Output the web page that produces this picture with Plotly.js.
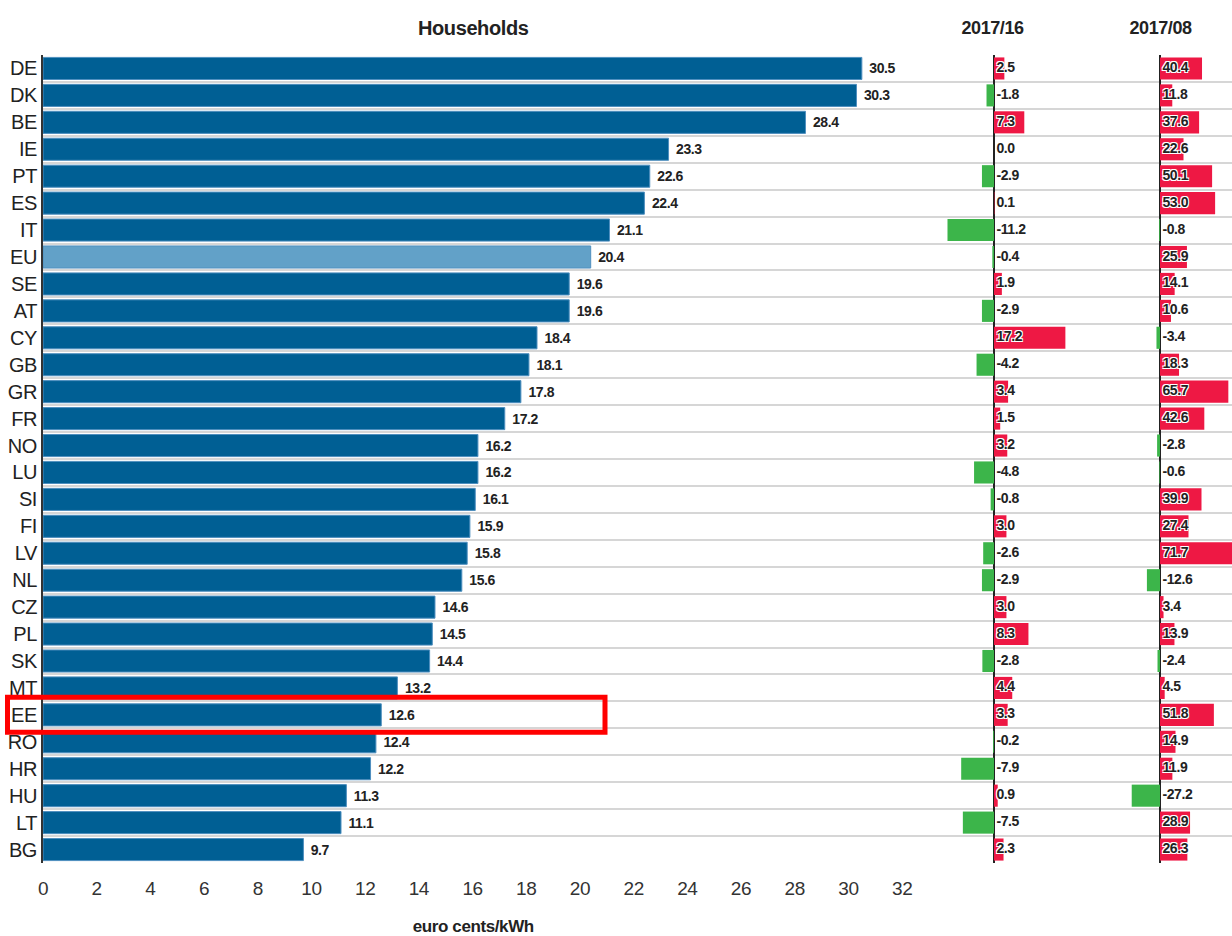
<!DOCTYPE html>
<html>
<head>
<meta charset="utf-8">
<script src="https://cdn.plot.ly/plotly-3.0.1.min.js"></script>
<style>html,body{margin:0;padding:0;background:#fff;}#chart{width:1232px;height:936px;}#chart text{letter-spacing:-0.4px;}</style>
</head>
<body>
<div id="chart"></div>
<script>
const countries = ["DE","DK","BE","IE","PT","ES","IT","EU","SE","AT","CY","GB","GR","FR","NO","LU","SI","FI","LV","NL","CZ","PL","SK","MT","EE","RO","HR","HU","LT","BG"];
const prices2017 = [30.5,30.3,28.4,23.3,22.6,22.4,21.1,20.4,19.6,19.6,18.4,18.1,17.8,17.2,16.2,16.2,16.1,15.9,15.8,15.6,14.6,14.5,14.4,13.2,12.6,12.4,12.2,11.3,11.1,9.7];
const change1716 = [2.5,-1.8,7.3,0.0,-2.9,0.1,-11.2,-0.4,1.9,-2.9,17.2,-4.2,3.4,1.5,3.2,-4.8,-0.8,3.0,-2.6,-2.9,3.0,8.3,-2.8,4.4,3.3,-0.2,-7.9,0.9,-7.5,2.3];
const change1708 = [40.4,11.8,37.6,22.6,50.1,53.0,-0.8,25.9,14.1,10.6,-3.4,18.3,65.7,42.6,-2.8,-0.6,39.9,27.4,71.7,-12.6,3.4,13.9,-2.4,4.5,51.8,14.9,11.9,-27.2,28.9,26.3];
const xTicks = [0,2,4,6,8,10,12,14,16,18,20,22,24,26,28,30,32];
const highlight = "EE";

const FONT = "Liberation Sans, Arial, sans-serif";
const BLUE = "#005f94", LIGHTBLUE = "#62a1c8", RED = "#ee1844", GREEN = "#3cb54a";
const halo = "1px 1px 0 #fff, -1px -1px 0 #fff, 1px -1px 0 #fff, -1px 1px 0 #fff";
const fmt = v => v.toFixed(1);
const posNegColor = v => v > 0 ? RED : GREEN;

const traces = [
  {
    type: "bar", orientation: "h", x: prices2017, y: countries, xaxis: "x", yaxis: "y",
    marker: {color: countries.map(c => c === "EU" ? LIGHTBLUE : BLUE), line: {color: "#4f8fbf", width: 1}},
    text: prices2017.map(v => "\u00a0" + fmt(v)), textposition: "outside", cliponaxis: false,
    textfont: {family: FONT, size: 14, color: "#222", weight: "bold"},
    hoverinfo: "x+y"
  },
  {
    type: "bar", orientation: "h", x: change1716, y: countries, xaxis: "x2", yaxis: "y",
    marker: {color: change1716.map(posNegColor)}, hoverinfo: "x+y"
  },
  {
    type: "scatter", mode: "text", x: change1716.map(() => 0), y: countries, xaxis: "x2", yaxis: "y",
    text: change1716.map(v => "\u2009" + fmt(v)), textposition: "middle right", cliponaxis: false,
    textfont: {family: FONT, size: 14, color: "#222", weight: "bold", shadow: halo}, hoverinfo: "skip"
  },
  {
    type: "bar", orientation: "h", x: change1708, y: countries, xaxis: "x3", yaxis: "y",
    marker: {color: change1708.map(posNegColor)}, hoverinfo: "x+y"
  },
  {
    type: "scatter", mode: "text", x: change1708.map(() => 0), y: countries, xaxis: "x3", yaxis: "y",
    text: change1708.map(v => "\u2009" + fmt(v)), textposition: "middle right", cliponaxis: false,
    textfont: {family: FONT, size: 14, color: "#222", weight: "bold", shadow: halo}, hoverinfo: "skip"
  }
];

const hiIdx = countries.indexOf(highlight);

const layout = {
  width: 1232, height: 936,
  margin: {l: 43, r: 0, t: 55, b: 73},
  paper_bgcolor: "#fff", plot_bgcolor: "rgba(0,0,0,0)",
  showlegend: false, bargap: 0.18,
  font: {family: FONT, color: "#222"},
  yaxis: {
    type: "category", categoryorder: "array", categoryarray: countries,
    range: [countries.length - 0.5, -0.5], fixedrange: true,
    tickson: "boundaries", ticks: "", showgrid: true, gridcolor: "#d6d6d6", gridwidth: 2,
    showline: true, linecolor: "#333", linewidth: 2,
    tickfont: {family: FONT, size: 20, color: "#222"}, automargin: false, zeroline: false
  },
  xaxis: {
    domain: [0, 0.7544], range: [0, 33.41], anchor: "y",
    tickvals: xTicks, ticktext: xTicks.map(String), ticks: "outside", ticklen: 8, tickcolor: "rgba(0,0,0,0)",
    showgrid: false, zeroline: false, showline: false,
    tickfont: {family: FONT, size: 19, color: "#333"}
  },
  xaxis2: {
    domain: [0.7544, 0.8974], range: [-13.01, 27.95], anchor: "y",
    showticklabels: false, ticks: "", showgrid: false,
    zeroline: true, zerolinecolor: "#222", zerolinewidth: 2
  },
  xaxis3: {
    domain: [0.8974, 1], range: [-48.08, 69.23], anchor: "y",
    showticklabels: false, ticks: "", showgrid: false,
    zeroline: true, zerolinecolor: "#222", zerolinewidth: 2
  },
  annotations: [
    {text: "<b>Households</b>", xref: "paper", yref: "paper", x: (473 - 43) / 1189, y: 1, yshift: 27,
     xanchor: "center", yanchor: "middle", showarrow: false, font: {family: FONT, size: 20, color: "#222"}},
    {text: "<b>2017/16</b>", xref: "paper", yref: "paper", x: (992 - 43) / 1189, y: 1, yshift: 27,
     xanchor: "center", yanchor: "middle", showarrow: false, font: {family: FONT, size: 18, color: "#222"}},
    {text: "<b>2017/08</b>", xref: "paper", yref: "paper", x: (1160 - 43) / 1189, y: 1, yshift: 27,
     xanchor: "center", yanchor: "middle", showarrow: false, font: {family: FONT, size: 18, color: "#222"}},
    {text: "<b>euro cents/kWh</b>", xref: "paper", yref: "paper", x: (473 - 43) / 1189, y: 0, yshift: -63,
     xanchor: "center", yanchor: "middle", showarrow: false, font: {family: FONT, size: 17, color: "#222"}}
  ],
  shapes: [
    {type: "rect", xref: "paper", yref: "paper",
     x0: (7.5 - 43) / 1189, x1: (605 - 43) / 1189,
     y0: 1 - (hiIdx + 1.15) / countries.length,
     y1: 1 - (hiIdx - 0.15) / countries.length,
     line: {color: "#ff0000", width: 5}, fillcolor: "rgba(0,0,0,0)"}
  ]
};

Plotly.newPlot("chart", traces, layout, {displayModeBar: false, staticPlot: true});
</script>
</body>
</html>
